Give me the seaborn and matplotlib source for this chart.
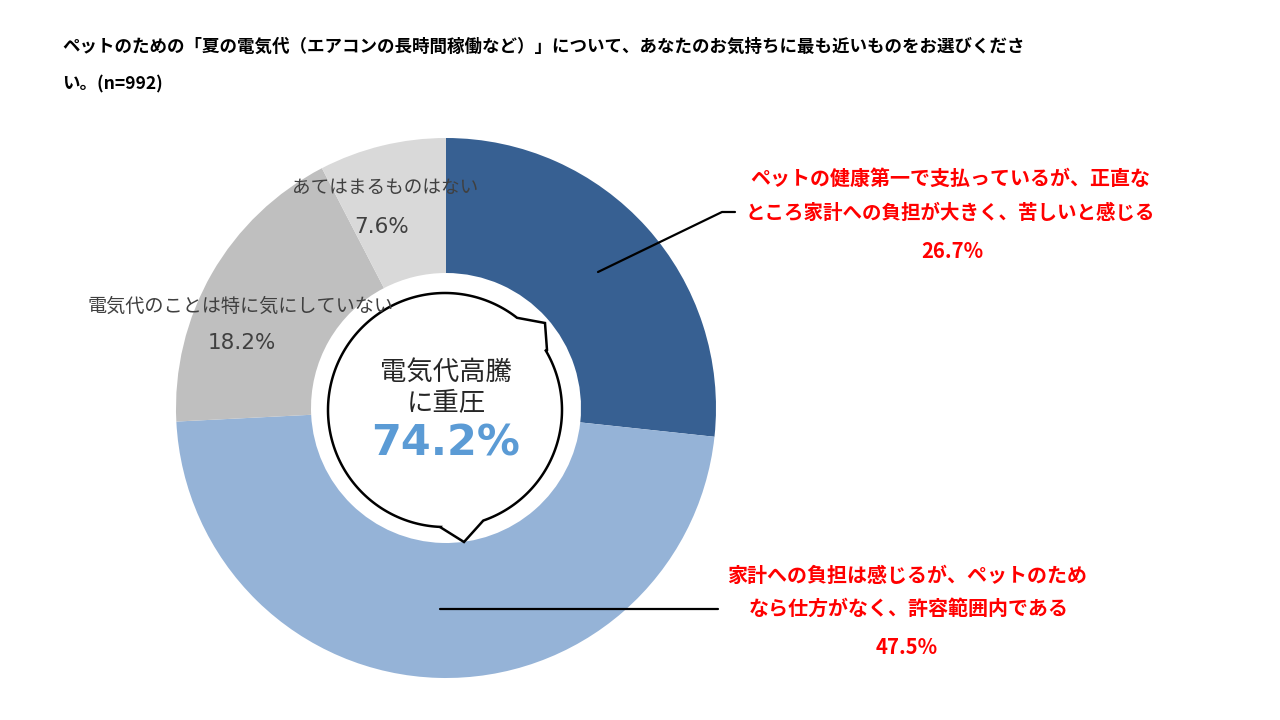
import numpy as np
import matplotlib
matplotlib.use("Agg")
import matplotlib.pyplot as plt
import seaborn as sns
from matplotlib.patches import Polygon

# data
categories = [
    "ペットの健康第一で支払っているが、正直なところ家計への負担が大きく、苦しいと感じる",
    "家計への負担は感じるが、ペットのためなら仕方がなく、許容範囲内である",
    "電気代のことは特に気にしていない",
    "あてはまるものはない",
]
label_lines = [
    ["ペットの健康第一で支払っているが、正直な", "ところ家計への負担が大きく、苦しいと感じる"],
    ["家計への負担は感じるが、ペットのため", "なら仕方がなく、許容範囲内である"],
    ["電気代のことは特に気にしていない"],
    ["あてはまるものはない"],
]
values = [26.7, 47.5, 18.2, 7.6]
colors = ["#376092", "#95B3D7", "#BFBFBF", "#D9D9D9"]
title_lines = [
    "ペットのための「夏の電気代（エアコンの長時間稼働など）」について、あなたのお気持ちに最も近いものをお選びくださ",
    "い。(n=992)",
]
center_lines = ["電気代高騰", "に重圧"]
center_value = values[0] + values[1]

sns.set_theme(style="white")
plt.rcParams["font.family"] = ["Noto Sans CJK JP", "DejaVu Sans"]

W, H = 1280, 720
fig = plt.figure(figsize=(12.8, 7.2), dpi=100)
ax = fig.add_axes([0, 0, 1, 1])


def py(y):
    # image y (down) -> axes y (up)
    return H - y


# donut
cx, cy, R = 446, 408, 270
ax.pie(values, colors=colors, startangle=90, counterclock=False,
       center=(cx, py(cy)), radius=R,
       wedgeprops=dict(width=R * 0.5, linewidth=0))
ax.set_xlim(0, W)
ax.set_ylim(0, H)
ax.set_aspect("auto")
ax.axis("off")

# speech bubble in the hole
bx, by, br = 445, 410, 117
a1 = np.radians(np.linspace(-30.5, 70.9, 80))
a2 = np.radians(np.linspace(92.4, 308, 160))
pts = [(bx + br * np.cos(a), by + br * np.sin(a)) for a in a1]
pts += [(464, 542), (440, 527)]
pts += [(bx + br * np.cos(a), by + br * np.sin(a)) for a in a2]
pts += [(545, 323), (547, 350)]
bubble = Polygon([(x, py(y)) for x, y in pts], closed=True,
                 facecolor="white", edgecolor="black", linewidth=1.8, zorder=3)
ax.add_patch(bubble)

ax.text(446, py(372), center_lines[0], ha="center", va="center",
        fontsize=19, color="#262626", zorder=4)
ax.text(446, py(403), center_lines[1], ha="center", va="center",
        fontsize=19, color="#262626", zorder=4)
ax.text(446, py(443), f"{center_value:.1f}%", ha="center", va="center",
        fontsize=31, fontweight="bold", color="#5B9BD5",
        family="DejaVu Sans", zorder=4)

# title
ax.text(62, py(47), title_lines[0], ha="left", va="center",
        fontsize=12.6, fontweight="bold", color="#000000")
ax.text(62, py(84), title_lines[1], ha="left", va="center",
        fontsize=12.6, fontweight="bold", color="#000000")

# red callouts
red = "#FF0000"
ax.plot([598, 722, 735], [py(272), py(212), py(212)], color="black", lw=1.6, zorder=2)
ax.text(950, py(178), label_lines[0][0], ha="center", va="center",
        fontsize=14.4, fontweight="bold", color=red)
ax.text(950, py(213), label_lines[0][1], ha="center", va="center",
        fontsize=14.0, fontweight="bold", color=red)
ax.text(952, py(252), f"{values[0]:.1f}%", ha="center", va="center",
        fontsize=14.6, fontweight="bold", color=red)

ax.plot([440, 718], [py(609), py(609)], color="black", lw=1.6, zorder=2)
ax.text(907, py(575), label_lines[1][0], ha="center", va="center",
        fontsize=14.4, fontweight="bold", color=red)
ax.text(909, py(608), label_lines[1][1], ha="center", va="center",
        fontsize=14.4, fontweight="bold", color=red)
ax.text(907, py(647), f"{values[1]:.1f}%", ha="center", va="center",
        fontsize=14.6, fontweight="bold", color=red)

# gray labels
gray_text = "#404040"
ax.text(241, py(306), label_lines[2][0], ha="center", va="center",
        fontsize=13.8, color=gray_text, zorder=4)
ax.text(242, py(343), f"{values[2]:.1f}%", ha="center", va="center",
        fontsize=15.5, color=gray_text, family="DejaVu Sans", zorder=4)
ax.text(385, py(188), label_lines[3][0], ha="center", va="center",
        fontsize=13.4, color=gray_text, zorder=4)
ax.text(382, py(227), f"{values[3]:.1f}%", ha="center", va="center",
        fontsize=15.5, color=gray_text, family="DejaVu Sans", zorder=4)

fig.savefig("out.png", dpi=100, facecolor="white")
